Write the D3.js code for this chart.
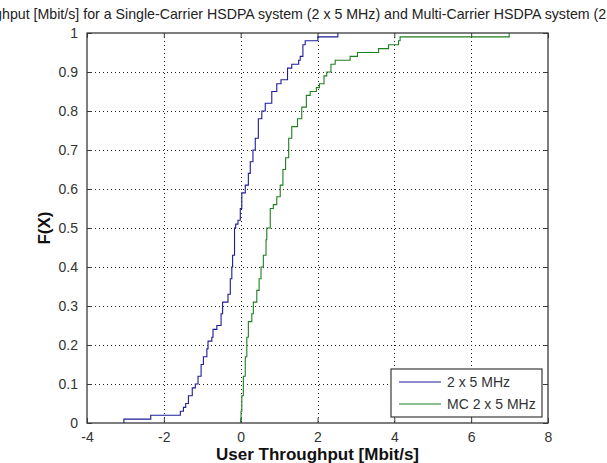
<!DOCTYPE html>
<html>
<head>
<meta charset="utf-8">
<script src="https://cdn.jsdelivr.net/npm/d3@7"></script>
<style>
  body { margin: 0; background: #fff; overflow: hidden; }
  svg { display: block; font-family: "Liberation Sans", Arial, sans-serif; }
</style>
</head>
<body>
<div id="chart-holder"></div>
<script>
let width = 607;
let height = 463;
let margin = {top: 33, right: 59, bottom: 40, left: 87};

let titleText = "Throughput [Mbit/s] for a Single-Carrier HSDPA system (2 x 5 MHz) and Multi-Carrier HSDPA system (2 x 5 MHz)";
let xLabel = "User Throughput [Mbit/s]";
let yLabel = "F(X)";

let xTicks = [-4, -2, 0, 2, 4, 6, 8];
let yTicks = [0, 0.1, 0.2, 0.3, 0.4, 0.5, 0.6, 0.7, 0.8, 0.9, 1];

let seriesNames = ["2 x 5 MHz", "MC 2 x 5 MHz"];

// step positions (throughput) and the CDF value reached at each step
let scX = [-3.04, -2.34, -1.57, -1.49, -1.43, -1.36, -1.26, -1.18, -1.11, -1.03,
  -0.97, -0.88, -0.85, -0.75, -0.72, -0.62, -0.51, -0.47, -0.33, -0.27,
  -0.23, -0.21, -0.16, -0.13, -0.07, -0.01, 0.03, 0.12, 0.20, 0.25,
  0.32, 0.38, 0.46, 0.55, 0.64, 0.81, 0.94, 1.05, 1.22, 1.33,
  1.51, 1.55, 1.62, 1.68, 2.01, 2.53];
let scF = [0.01, 0.02, 0.03, 0.04, 0.05, 0.07, 0.09, 0.10, 0.12, 0.15,
  0.17, 0.19, 0.21, 0.22, 0.24, 0.25, 0.28, 0.31, 0.33, 0.37,
  0.40, 0.43, 0.50, 0.51, 0.52, 0.55, 0.59, 0.61, 0.64, 0.67,
  0.70, 0.73, 0.78, 0.80, 0.82, 0.85, 0.87, 0.88, 0.91, 0.92,
  0.93, 0.94, 0.97, 0.98, 0.99, 1.00];

let mcX = [0.00, 0.01, 0.03, 0.07, 0.12, 0.16, 0.20, 0.29, 0.33, 0.42,
  0.48, 0.53, 0.59, 0.66, 0.68, 0.77, 0.85, 0.94, 1.03, 1.10,
  1.17, 1.25, 1.33, 1.48, 1.59, 1.71, 1.81, 1.97, 2.05, 2.17,
  2.24, 2.35, 2.46, 2.85, 3.04, 3.59, 3.85, 4.11, 4.15, 6.99];
let mcF = [0.01, 0.03, 0.07, 0.12, 0.17, 0.22, 0.26, 0.28, 0.31, 0.34,
  0.37, 0.40, 0.43, 0.47, 0.50, 0.55, 0.56, 0.58, 0.61, 0.65,
  0.68, 0.73, 0.76, 0.78, 0.81, 0.84, 0.85, 0.86, 0.87, 0.89,
  0.90, 0.92, 0.93, 0.94, 0.95, 0.96, 0.97, 0.98, 0.99, 1.00];

let colors = ["#1c1c9c", "#1e7f1e"];
let axisColor = "#3a3a3a";

function stairs(xs, fs) {
  // start on the axis, then up/across for each step
  let pts = [[xs[0], 0]];
  for (let i = 0; i < xs.length; i++) {
    if (i > 0) pts.push([xs[i], fs[i - 1]]);
    pts.push([xs[i], fs[i]]);
  }
  return pts;
}

let series = [
  {name: seriesNames[0], pts: stairs(scX, scF), color: colors[0]},
  {name: seriesNames[1], pts: stairs(mcX, mcF), color: colors[1]}
];

let svg = d3.select("#chart-holder")
  .append("svg")
  .attr("width", width)
  .attr("height", height);

let x = d3.scaleLinear().domain([-4, 8]).range([margin.left, width - margin.right]);
let y = d3.scaleLinear().domain([0, 1]).range([height - margin.bottom, margin.top]);

let x0 = x.range()[0], x1 = x.range()[1];
let y0 = y.range()[0], y1 = y.range()[1];

// dotted grid
let grid = svg.append("g")
  .attr("stroke", "#222")
  .attr("stroke-width", 1)
  .attr("stroke-dasharray", "1,3");
grid.selectAll(".gx")
  .data(xTicks.slice(1, -1))
  .enter().append("line")
    .attr("x1", d => Math.round(x(d)) + 0.5)
    .attr("x2", d => Math.round(x(d)) + 0.5)
    .attr("y1", y1)
    .attr("y2", y0);
grid.selectAll(".gy")
  .data(yTicks.slice(1, -1))
  .enter().append("line")
    .attr("x1", x0)
    .attr("x2", x1)
    .attr("y1", d => Math.round(y(d)) + 0.5)
    .attr("y2", d => Math.round(y(d)) + 0.5);

// axes with inward ticks
let xAxis = d3.axisBottom(x).tickValues(xTicks).tickSizeInner(-5).tickSizeOuter(0).tickPadding(9)
  .tickFormat(d => d < 0 ? "-" + Math.abs(d) : d);
let yAxis = d3.axisLeft(y).tickValues(yTicks).tickSizeInner(-5).tickSizeOuter(0).tickPadding(9)
  .tickFormat(d => d);

svg.append("g")
  .attr("class", "axis")
  .attr("transform", "translate(0," + y0 + ")")
  .call(xAxis);
svg.append("g")
  .attr("class", "axis")
  .attr("transform", "translate(" + x0 + ",0)")
  .call(yAxis);
svg.append("g")
  .attr("class", "axis")
  .attr("transform", "translate(0," + y1 + ")")
  .call(d3.axisTop(x).tickValues(xTicks).tickSizeInner(-5).tickSizeOuter(0).tickFormat(""));
svg.append("g")
  .attr("class", "axis")
  .attr("transform", "translate(" + x1 + ",0)")
  .call(d3.axisRight(y).tickValues(yTicks).tickSizeInner(-5).tickSizeOuter(0).tickFormat(""));

svg.selectAll(".axis path").remove();
svg.selectAll(".axis line").attr("stroke", axisColor);
svg.selectAll(".axis text")
  .attr("fill", "#333")
  .style("font-size", "14px");

// box
svg.append("rect")
  .attr("x", x0)
  .attr("y", y1)
  .attr("width", x1 - x0)
  .attr("height", y0 - y1)
  .attr("fill", "none")
  .attr("stroke", axisColor)
  .attr("stroke-width", 1.3);

let line = d3.line()
  .x(d => x(d[0]))
  .y(d => y(d[1]));

svg.append("g")
  .selectAll("path")
  .data(series)
  .enter().append("path")
    .attr("d", d => line(d.pts))
    .attr("fill", "none")
    .attr("stroke", d => d.color)
    .attr("stroke-width", 1.1);

// legend
let legend = svg.append("g").attr("transform", "translate(391,369)");
legend.append("rect")
  .attr("width", 151)
  .attr("height", 48)
  .attr("fill", "#fff")
  .attr("stroke", axisColor)
  .attr("stroke-width", 1.2);
let item = legend.selectAll(".item")
  .data(series)
  .enter().append("g")
    .attr("transform", (d, i) => "translate(0," + (13 + i * 22) + ")");
item.append("line")
  .attr("x1", 8)
  .attr("x2", 50)
  .attr("stroke", d => d.color)
  .attr("stroke-width", 1.1);
item.append("text")
  .attr("x", 56)
  .attr("dy", "0.35em")
  .attr("fill", "#333")
  .style("font-size", "14px")
  .text(d => d.name);

// labels
svg.append("text")
  .attr("x", (x0 + x1) / 2)
  .attr("y", 460)
  .attr("text-anchor", "middle")
  .attr("fill", "#111")
  .style("font-size", "17px")
  .style("font-weight", "bold")
  .text(xLabel);

svg.append("text")
  .attr("transform", "translate(50," + (y0 + y1) / 2 + ") rotate(-90)")
  .attr("text-anchor", "middle")
  .attr("fill", "#111")
  .style("font-size", "17px")
  .style("font-weight", "bold")
  .text(yLabel);

let title = svg.append("text")
  .attr("y", 19)
  .attr("fill", "#222")
  .style("font-size", "14.2px")
  .text(titleText);
// the title overflows the figure on both sides, only "...ghput" onwards shows
let cut = title.node().getSubStringLength(0, 6);
title.attr("x", 2 - cut);
</script>
</body>
</html>
